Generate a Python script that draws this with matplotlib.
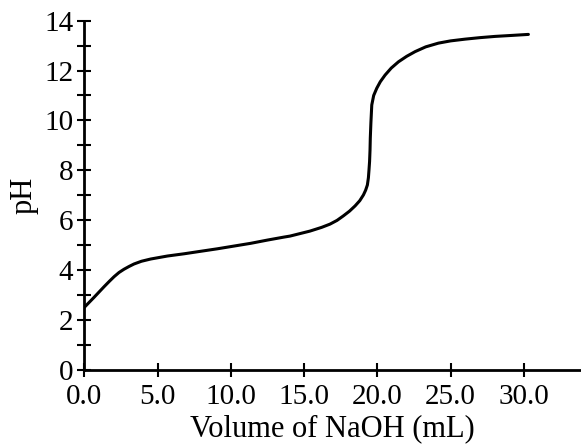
#!/usr/bin/env python3
"""Titration curve: pH vs volume of NaOH added."""

import matplotlib
matplotlib.use("Agg")
import matplotlib.pyplot as plt
from matplotlib.ticker import MultipleLocator

# values
volume_ml = [0.0, 0.66, 1.35, 1.7, 2.03, 2.37, 2.71, 3.05, 3.39, 3.9, 4.53,
             5.67, 6.81, 7.94, 9.08, 10.22, 11.36, 12.5, 13.63, 14.04, 15.4,
             16.2, 16.77, 17.25, 17.68, 18.1, 18.48, 18.8, 19.05, 19.2, 19.32,
             19.39, 19.43, 19.47, 19.5, 19.52, 19.56, 19.62, 19.75, 19.96,
             20.2, 20.53, 20.95, 21.44, 22.0, 22.58, 23.3, 24.17, 25.0, 25.99,
             27.0, 28.04, 29.2, 30.31]
ph = [2.50, 2.90, 3.33, 3.54, 3.73, 3.9, 4.03, 4.14, 4.24, 4.35, 4.44,
      4.56, 4.65, 4.75, 4.85, 4.96, 5.07, 5.20, 5.32, 5.36, 5.56,
      5.71, 5.84, 5.99, 6.17, 6.36, 6.57, 6.78, 7.01, 7.2, 7.41,
      7.7, 8.01, 8.35, 8.8, 9.3, 9.9, 10.62, 11.0, 11.29,
      11.55, 11.82, 12.1, 12.35, 12.57, 12.76, 12.95, 13.1, 13.19, 13.26,
      13.32, 13.37, 13.41, 13.45]

x_ticks = [0, 5, 10, 15, 20, 25, 30]
y_ticks = [0, 2, 4, 6, 8, 10, 12, 14]

plt.rcParams["font.family"] = ["Liberation Serif", "DejaVu Serif"]

fig = plt.figure(figsize=(5.81, 4.45), dpi=100)
ax = fig.add_axes([0.1451, 0.1692, 0.8549, 0.7843])

ax.plot(volume_ml, ph, color="black", linewidth=2.2,
        solid_capstyle="round", solid_joinstyle="round")

ax.set_xlim(0, 33.9)
ax.set_ylim(0, 14)
ax.set_xticks(x_ticks)
ax.set_xticklabels([f"{v:.1f}" for v in x_ticks])
ax.set_yticks(y_ticks)
ax.yaxis.set_minor_locator(MultipleLocator(1))

for side in ("top", "right"):
    ax.spines[side].set_visible(False)
for side in ("left", "bottom"):
    ax.spines[side].set_linewidth(2.0)

ax.tick_params(axis="both", which="both", direction="inout", length=10,
               width=1.5, labelsize=21, colors="black")
ax.tick_params(axis="y", which="major", pad=3)
ax.tick_params(axis="x", which="major", pad=5)

ax.set_xlabel("Volume of NaOH (mL)", fontsize=22, labelpad=3)
ax.set_ylabel("pH", fontsize=22, labelpad=4)

fig.savefig("out.png", dpi=100)
